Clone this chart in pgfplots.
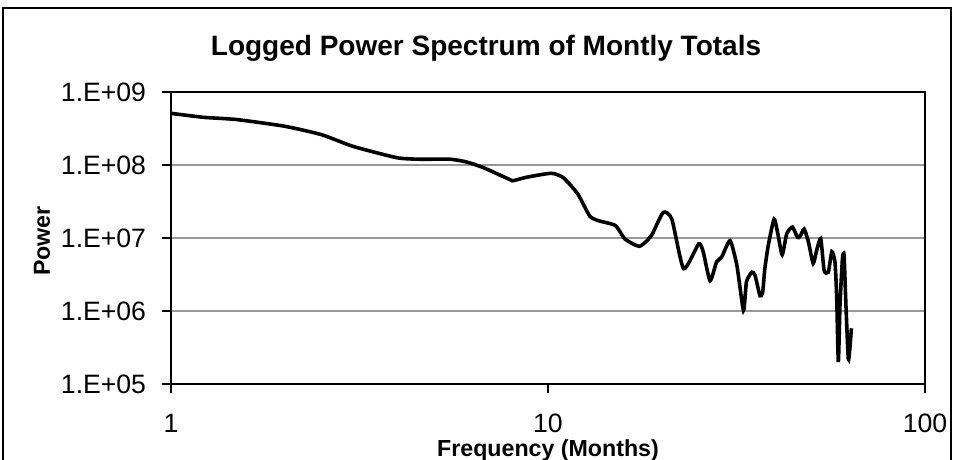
\documentclass[border=0pt]{standalone}
\usepackage{pgfplots}
\pgfplotsset{compat=1.18}
\usepackage{fontspec}
\setmainfont{Liberation Sans}
\usetikzlibrary{calc}

\begin{document}
\begin{tikzpicture}
\begin{axis}[
    scale only axis,
    width=377bp, height=146bp,
    xmode=log, ymode=log,
    xmin=1, xmax=100,
    ymin=1e5, ymax=1e9,
    xtick={1,10,100},
    xticklabels={1,10,100},
    ytick={1e5,1e6,1e7,1e8,1e9},
    yticklabels={1.E+05,1.E+06,1.E+07,1.E+08,1.E+09},
    xminorticks=false, yminorticks=false,
    xtick pos=bottom, ytick pos=left,
    tick align=outside,
    major tick length=4.5bp,
    tick style={black, line width=0.6pt},
    ymajorgrids,
    grid style={gray!80, line width=0.6pt},
    axis line style={black, line width=1pt},
    tick label style={font=\fontsize{13.3bp}{15bp}\selectfont},
    xticklabel style={yshift=-7bp},
    yticklabel style={xshift=-4.5bp},
    xlabel={\textbf{Frequency (Months)}},
    ylabel={\textbf{Power}},
    label style={font=\fontsize{11.6bp}{14bp}\selectfont},
    xlabel style={at={(axis description cs:0.5,-0.249)}, anchor=base},
    ylabel style={at={(axis description cs:-0.171,0.49)}, anchor=center},
    clip=false,
]
\addplot[black, line width=1.8pt, smooth, tension=0.35] coordinates {
    (1, 5.1e8) (1.22, 4.5e8) (1.49, 4.2e8) (2.0, 3.4e8) (2.51, 2.6e8)
    (3.04, 1.8e8) (3.97, 1.26e8) (4.57, 1.2e8) (5.5, 1.2e8) (6.08, 1.1e8)
    (6.74, 9.2e7) (7.93, 6.3e7) (8.09, 6.1e7) (8.78, 6.8e7) (10.2, 7.7e7)
    (10.98, 6.7e7) (12.0, 4.0e7) (12.9, 2.0e7) (13.6, 1.73e7) (15.1, 1.48e7)
    (16.0, 9.7e6) (17.5, 7.7e6) (18.8, 1.08e7) (20.2, 2.24e7) (21.3, 1.82e7)
    (22.9, 3.8e6) (25.1, 8.3e6) (25.8, 6.5e6) (26.9, 2.6e6) (28.0, 4.7e6)
    (28.9, 5.5e6) (30.4, 9.2e6) (31.7, 4.2e6) (33.0, 1.02e6) (33.6, 2.5e6)
    (34.7, 3.4e6) (35.4, 3.1e6) (36.5, 1.62e6) (37.1, 1.8e6) (37.6, 3.8e6)
    (38.4, 7.9e6) (39.8, 1.82e7) (40.8, 1.07e7) (41.8, 5.9e6) (43.0, 1.15e7)
    (44.5, 1.41e7) (45.9, 1.02e7) (46.6, 1.05e7) (47.8, 1.32e7) (49.0, 9.1e6)
    (50.5, 4.5e6) (51.6, 6.8e6) (52.9, 9.8e6) (54.0, 3.6e6) (55.4, 3.4e6)
    (56.6, 6.5e6) (57.7, 4.7e6) (58.3, 1.6e6) (58.9, 2.0e5) (59.5, 1.2e6)
    (60.4, 5.2e6) (61.0, 5.8e6) (61.7, 1.2e6) (62.6, 2.2e5) (63.2, 3.1e5)
    (63.8, 5.8e5)
};
\coordinate (sw) at (rel axis cs:0,0);
\coordinate (ne) at (rel axis cs:1,1);
\end{axis}
% chart frame
\draw[black, line width=1pt]
    ($(sw)+(-84bp,-40bp)$) |- ($(ne)+(13bp,42bp)$) -- ($(ne|-sw)+(13bp,-40bp)$);
\node[font=\fontsize{14bp}{16bp}\selectfont\bfseries] at ($(sw|-ne)+(157.5bp,22bp)$)
    {Logged Power Spectrum of Montly Totals};
\pgfresetboundingbox
\path ($(sw)+(-85.5bp,-37.5bp)$) rectangle ($(ne)+(14.5bp,46bp)$);
\end{tikzpicture}
\end{document}
